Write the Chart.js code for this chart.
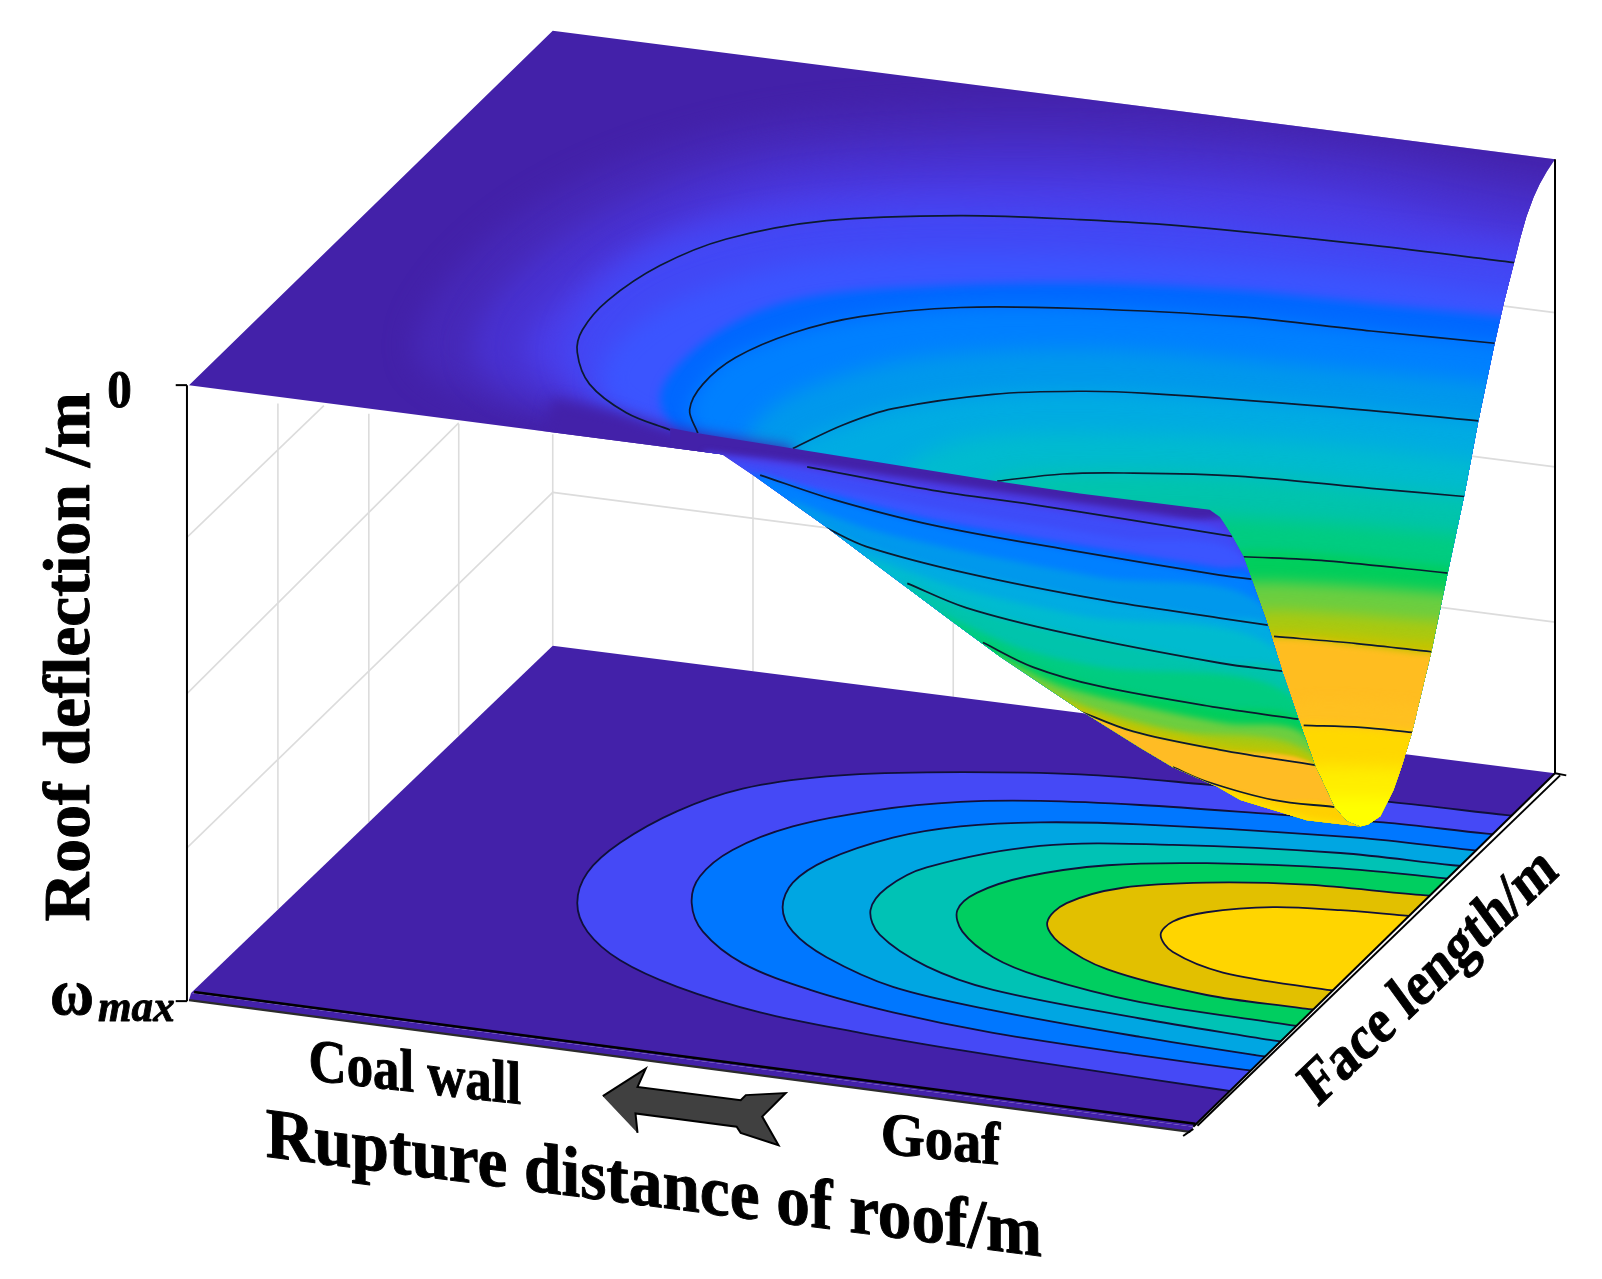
<!DOCTYPE html>
<html>
<head>
<meta charset="utf-8">
<title>Roof deflection</title>
<script src="https://cdn.jsdelivr.net/npm/chart.js@4"></script>
<style>
  html, body { margin: 0; background: #fff; }
  canvas { display: block; }
</style>
</head>
<body>
<canvas id="chart" width="1602" height="1279"></canvas>
<script>

// Outlines of the three big surfaces
const floorOutline = [[541,632],[1522,757],[1168,1103],[187,972]];
const floorStrip = [[187,972],[1168,1103],[1165,1108],[185,979]];
const foldCurve = [[1184,499],[1194,506],[1206,525],[1217,545],[1225,567],[1241,612],[1255,657],[1271,704],[1287,749],[1306,790],[1318,804],[1331,809]];
const backOutline = [[541,30],[1522,156],[1514,168],[1507,180],[1501,193],[1494,212],[1488,233],[1482,257],[1472,296],[1463,336],[1455,374],[1447,412],[1433,486],[1417,561],[1401,638],[1382,717],[1372,750],[1364,773],[1351,799],[1339,807],[1331,809]]
  .concat(foldCurve.slice().reverse(), [[708,445],[185,377]]);
const frontOutline = [[656,419],[683,424],[776,439],[976,471],[1057,483]].concat(foldCurve,
  [[1279,803],[1214,783],[1191,770],[1148,751],[1116,732],[1057,695],[979,643],[933,609],[874,565],[809,516],[737,465],[707,445],[656,438]]);
// Dark wedge where the plateau runs into the fold
const pinchWedge = [[540,390],[600,402],[656,419],[683,424],[776,439],[776,475],[520,475]];

// Floor contour regions, outer to inner
const floorRegions = [
  [[1540,805],[1475,798],[1360,785],[1181,768],[1057,758],[907,756],[809,760],[727,772],[663,794],[607,825],[575,854],[565,884],[575,912],[607,940],[663,966],[744,991],[842,1011],[940,1028],[1057,1046],[1197,1067],[1260,1076]],
  [[1520,822],[1455,816],[1354,805],[1246,797],[1116,788],[1018,784],[940,785],[858,793],[776,809],[717,832],[685,858],[677,884],[688,912],[727,943],[793,969],[874,991],[972,1011],[1116,1033],[1217,1047],[1280,1055]],
  [[1500,838],[1439,832],[1328,820],[1116,807],[1018,805],[940,809],[874,820],[809,842],[776,864],[766,888],[776,912],[809,937],[874,966],[972,989],[1116,1015],[1230,1033],[1280,1040]],
  [[1490,853],[1422,847],[1312,835],[1148,827],[1018,828],[907,849],[868,869],[852,891],[861,915],[907,946],[972,969],[1116,997],[1243,1018],[1290,1026]],
  [[1470,865],[1407,859],[1312,850],[1181,845],[1084,847],[1005,858],[956,874],[937,891],[942,912],[972,937],[1018,956],[1116,981],[1260,1003],[1310,1011]],
  [[1460,880],[1390,876],[1279,866],[1181,864],[1099,869],[1044,884],[1025,903],[1037,923],[1084,949],[1181,974],[1275,987],[1320,994]],
  [[1420,900],[1373,896],[1312,891],[1246,888],[1181,893],[1148,902],[1136,915],[1148,932],[1197,952],[1299,969],[1340,975]]
];
const floorColors = ['#4549f6','#0077ff','#00a6e2','#00c2b5','#00ce60','#e2c000','#ffd500'];

// Iso-colour bands of the back part of the surface, outer to inner
const backBands = [
  [[1560,170],[1500,160],[1300,125],[1100,105],[900,105],[720,125],[560,180],[450,260],[405,345],[470,392],[600,415],[690,436]],
  [[1560,200],[1490,190],[1300,155],[1100,140],[900,140],[730,158],[590,210],[495,280],[462,345],[505,385],[620,412],[695,438]],
  [[1560,235],[1480,225],[1300,190],[1100,175],[900,175],[745,190],[620,240],[540,300],[515,345],[555,382],[640,416],[695,438]],
  [[1560,262],[1482,250],[1342,235],[1167,215],[992,205],[861,205],[741,217],[651,240],[590,280],[555,343],[575,380],[650,420],[695,440]],
  [[1560,295],[1470,288],[1342,270],[1167,255],[992,248],[861,250],[760,262],[660,295],[600,340],[590,385],[640,420],[690,440]],
  [[1560,320],[1470,310],[1342,297],[1211,284],[1057,277],[874,282],[776,294],[711,320],[662,359],[646,391],[665,425],[700,445]],
  [[1560,345],[1463,336],[1342,324],[1211,310],[1057,301],[940,301],[842,311],[776,326],[711,352],[685,379],[675,401],[683,424],[705,450]],
  [[1560,390],[1455,375],[1300,360],[1100,343],[950,345],[850,360],[760,395],[725,440],[730,470]],
  [[1560,420],[1447,412],[1298,398],[1123,385],[1057,383],[972,386],[874,400],[825,416],[776,439],[760,480]],
  [[1560,460],[1440,450],[1300,435],[1100,425],[950,430],[880,460],[850,500]],
  [[1560,495],[1433,486],[1342,478],[1211,466],[1057,463],[976,471],[920,510]],
  [[1560,530],[1425,523],[1300,512],[1150,505],[1050,510],[1000,540]],
  [[1560,565],[1417,555],[1298,543],[1217,540],[1150,550]],
  [[1560,590],[1412,580],[1300,572],[1215,570],[1150,580]],
  [[1560,615],[1407,608],[1300,600],[1230,598],[1150,610]],
  [[1560,632],[1403,628],[1300,620],[1230,618],[1150,625]],
  [[1560,645],[1401,640],[1328,632],[1247,625],[1200,640]],
  [[1560,695],[1390,690],[1300,685],[1200,690]],
  [[1560,720],[1382,717],[1332,712],[1276,710],[1200,720]],
  [[1560,760],[1300,750],[1200,755]],
  [[1560,790],[1300,780],[1200,785]]
];
const backBandColors = ['#4628b8','#4831d0','#4a3de8','#4248f5','#3b55ff','#0068ff','#0080ff','#0098ec','#00ace2','#00bbcf','#00c4ac','#00cc80','#00ce5c','#6cce40','#aac910','#c4c400','#ffbd20','#ffc020','#ffd800','#ffee00','#ffff00'];
const backBandBlur = [14,14,14,14,12,5,9,10,10,10,10,9,5,7,7,5,3,6,4,8,8];

// Iso-colour bands of the front fold of the surface
const frontBands = [
  [[690,442],[776,452],[913,472],[1011,486],[1167,508],[1220,515]],
  [[700,448],[790,460],[913,482],[1011,496],[1100,510],[1206,527]],
  [[720,458],[800,475],[913,497],[1011,513],[1100,527],[1215,545]],
  [[732,463],[816,485],[913,509],[1044,532],[1194,556],[1225,560]],
  [[744,465],[816,489],[913,514],[1044,538],[1194,563],[1225,567]],
  [[775,490],[848,517],[946,540],[1077,565],[1235,592]],
  [[809,517],[848,535],[946,561],[1077,587],[1194,605],[1241,612]],
  [[848,545],[946,578],[1060,603],[1248,635]],
  [[888,571],[946,595],[1044,620],[1194,649],[1255,657]],
  [[920,600],[1000,635],[1077,653],[1262,680]],
  [[962,629],[1011,653],[1077,672],[1194,693],[1271,704]],
  [[975,642],[1040,672],[1120,692],[1200,708],[1275,718]],
  [[1010,668],[1070,694],[1150,715],[1280,735]],
  [[1040,688],[1109,710],[1194,728],[1285,745]],
  [[1054,695],[1109,716],[1194,734],[1287,749]],
  [[1148,751],[1181,765],[1246,783],[1306,790]],
  [[1191,772],[1280,800],[1320,808]]
];
const frontBandColors = ['#4a3de8','#3e4cf8','#3b55ff','#0068ff','#0080ff','#0098ec','#00ace2','#00bbcf','#00c4ac','#00cc80','#00ce5c','#6cce40','#aac910','#c4c400','#ffbc24','#ffd000','#ffe000'];

// Black contour lines on the surface
const backContours = [
  [[1482,257],[1342,240],[1167,222],[1057,215],[940,211],[809,216],[711,234],[646,260],[595,294],[570,323],[565,345],[577,376],[613,404],[656,421]],
  [[1463,336],[1342,324],[1211,310],[1057,302],[940,301],[842,310],[776,326],[720,350],[688,376],[675,401],[683,424]],
  [[1447,412],[1298,398],[1123,385],[1057,383],[972,386],[874,400],[825,416],[776,439]],
  [[1433,486],[1342,478],[1211,466],[1100,463],[1040,464],[976,471]],
  [[1417,561],[1298,549],[1217,545]],
  [[1401,638],[1328,630],[1247,623]],
  [[1382,717],[1332,712],[1276,710]]
];
const frontContours = [
  [[790,457],[913,480],[1011,494],[1100,508],[1206,525]],
  [[744,465],[816,489],[913,514],[1044,538],[1194,563],[1225,567]],
  [[809,517],[848,535],[946,561],[1077,587],[1194,605],[1241,612]],
  [[888,571],[946,595],[1044,620],[1194,649],[1255,657]],
  [[962,629],[1011,653],[1077,672],[1194,693],[1271,704]],
  [[1054,695],[1109,716],[1194,734],[1287,749]],
  [[1148,751],[1181,765],[1246,783],[1306,790]]
];

// Walls and axes
const gridLines = [
  [[272,395],[272,890]],[[361,405],[361,805]],[[449,415],[449,720]],[[541,425],[541,632]],
  [[737,300],[737,657]],[[933,300],[933,682]],
  [[541,482],[183,830]],[[449,414],[183,679]],[[317,397],[183,526]],
  [[541,482],[1522,609]],[[541,331],[1522,457]],[[541,180],[1522,306]]
];
const axisLines = [
  [[183,377],[183,980]],[[172,377],[183,377]],[[172,980],[183,980]],
  [[1522,156],[1522,757]],[[1522,757],[1533,759]],
  [[1168,1103],[1522,757]],[[1172,1102],[1527,759]],[[1158,1112],[1168,1105]]
];
const floorFrontLine = [[190,971],[1170,1100]];
const floorBottomLine = [[185,979],[1165,1108]];
const arrowOutline = [[590,1073],[632,1046],[624,1064],[725,1077],[730,1072],[769,1070],[746,1093],[762,1121],[725,1109],[721,1103],[622,1090],[624,1109]];

// Text labels: string, font, baseline start, baseline vector, glyph "down" direction
const labelStrings = ['Roof deflection /m', '0', 'ω', 'max', 'Coal wall', 'Goaf', 'Rupture distance of roof/m', 'Face length/m'];
const labelFonts = ['bold 65px', 'bold 53px', 'bold 65px', 'italic bold 44px', 'bold 55px', 'bold 55px', 'bold 66px', 'bold 60px'];
const labelStarts = [[87,902],[105,398],[49,993],[96,999],[302,1057],[862,1129],[260,1132],[1290,1084]];
const labelVectors = [[0,-518],[24,0],[43,0],[75,0],[208,24],[117,11],[760,98],[237,-228]];
const labelDown = [[1,0],[0,1],[0,1],[0,1],[0,1.1],[0,1.1],[0,1.08],[0.6,0.82]];

const PURPLE = '#4321a9';
const clipShapes = { floor: floorOutline, back: backOutline, front: frontOutline };

function layer(points, opts) {
  return Object.assign({
    data: points.map(([x, y]) => ({ x, y })),
    showLine: true, pointRadius: 0, borderWidth: 0, fill: false, tension: 0
  }, opts);
}
const shape = (points, color, opts) => layer(points, Object.assign({ fill: 'shape', backgroundColor: color }, opts));
const stroke = (points, color, width, opts) => layer(points, Object.assign({ borderColor: color, borderWidth: width }, opts));

const datasets = [];
gridLines.forEach(p => datasets.push(stroke(p, '#dcdcdc', 1.6)));
datasets.push(shape(floorOutline, PURPLE));
datasets.push(shape(floorStrip, PURPLE));
floorRegions.forEach((p, i) => datasets.push(shape(p.concat([[1500,1100],[1560,800]]), floorColors[i], {
  tension: 0.34, borderColor: '#10103a', borderWidth: 1.8, clipTo: 'floor', blur: 0.5
})));
datasets.push(stroke(floorFrontLine, '#000', 2.6));
datasets.push(stroke(floorBottomLine, '#2b2b2b', 2.2));

datasets.push(shape(backOutline, PURPLE));
backBands.forEach((p, i) => datasets.push(shape(p.concat([[740,560],[1000,900],[1560,900]]), backBandColors[i], {
  tension: 0.34, clipTo: 'back', blur: backBandBlur[i]
})));
datasets.push(shape(pinchWedge, PURPLE, { clipTo: 'back', blur: 7 }));
backContours.forEach(p => datasets.push(stroke(p, '#0c1a30', 1.7, { tension: 0.34, clipTo: 'back' })));

datasets.push(shape(frontOutline, PURPLE));
frontBands.forEach((p, i) => datasets.push(shape(p.concat([[1500,950],[600,950]]), frontBandColors[i], {
  tension: 0.3, clipTo: 'front', blur: i === 14 || i === 15 ? 1.5 : 3
})));
frontContours.forEach(p => datasets.push(stroke(p, '#0c1a30', 1.8, { tension: 0.34, clipTo: 'front' })));

axisLines.forEach(p => datasets.push(stroke(p, '#000', 2)));
datasets.push(shape(arrowOutline, '#404040', { borderColor: '#000', borderWidth: 2 }));
datasets.forEach((d, i) => { d.order = -i; });

// Clip and soften a dataset; runs before the filler, so the fill is included
const layerClip = {
  id: 'layerClip',
  beforeDatasetDraw(chart, args) {
    const d = chart.data.datasets[args.index];
    const ctx = chart.ctx;
    ctx.save();
    if (d.clipTo) {
      ctx.beginPath();
      clipShapes[d.clipTo].forEach(([x, y]) => ctx.lineTo(chart.scales.x.getPixelForValue(x), chart.scales.y.getPixelForValue(y)));
      ctx.closePath();
      ctx.clip();
    }
    if (d.blur) ctx.filter = 'blur(' + d.blur + 'px)';
  },
  afterDatasetDraw(chart) {
    chart.ctx.restore();
  }
};

// Slanted labels, stretched so that they run along the read baseline
const slantedLabels = {
  id: 'slantedLabels',
  afterDatasetsDraw(chart) {
    const { ctx, scales: { x, y } } = chart;
    const k = x.getPixelForValue(1) - x.getPixelForValue(0);
    labelStrings.forEach((s, i) => {
      ctx.save();
      ctx.font = labelFonts[i] + ' "Liberation Serif"';
      ctx.fillStyle = '#000';
      ctx.strokeStyle = '#000';
      ctx.lineWidth = 0.9;
      ctx.lineJoin = 'round';
      ctx.textBaseline = 'alphabetic';
      const w = ctx.measureText(s).width;
      const [dx, dy] = labelVectors[i];
      const [cx, cy] = labelDown[i];
      ctx.transform(dx * k / w, dy * k / w, cx, cy, x.getPixelForValue(labelStarts[i][0]), y.getPixelForValue(labelStarts[i][1]));
      ctx.fillText(s, 0, 0);
      ctx.strokeText(s, 0, 0);
      ctx.restore();
    });
  }
};

const filler = Chart.registry.plugins.get('filler');
Chart.unregister(filler);
Chart.register(layerClip, filler);

new Chart(document.querySelector('#chart').getContext('2d'), {
  type: 'scatter',
  data: { datasets },
  options: {
    responsive: false,
    animation: false,
    layout: { padding: 0 },
    events: [],
    scales: {
      x: { type: 'linear', display: false, min: 0, max: 1568 },
      y: { type: 'linear', display: false, min: 0, max: 1252, reverse: true }
    },
    plugins: { legend: { display: false }, tooltip: { enabled: false } }
  },
  plugins: [slantedLabels]
});
</script>
</body>
</html>
